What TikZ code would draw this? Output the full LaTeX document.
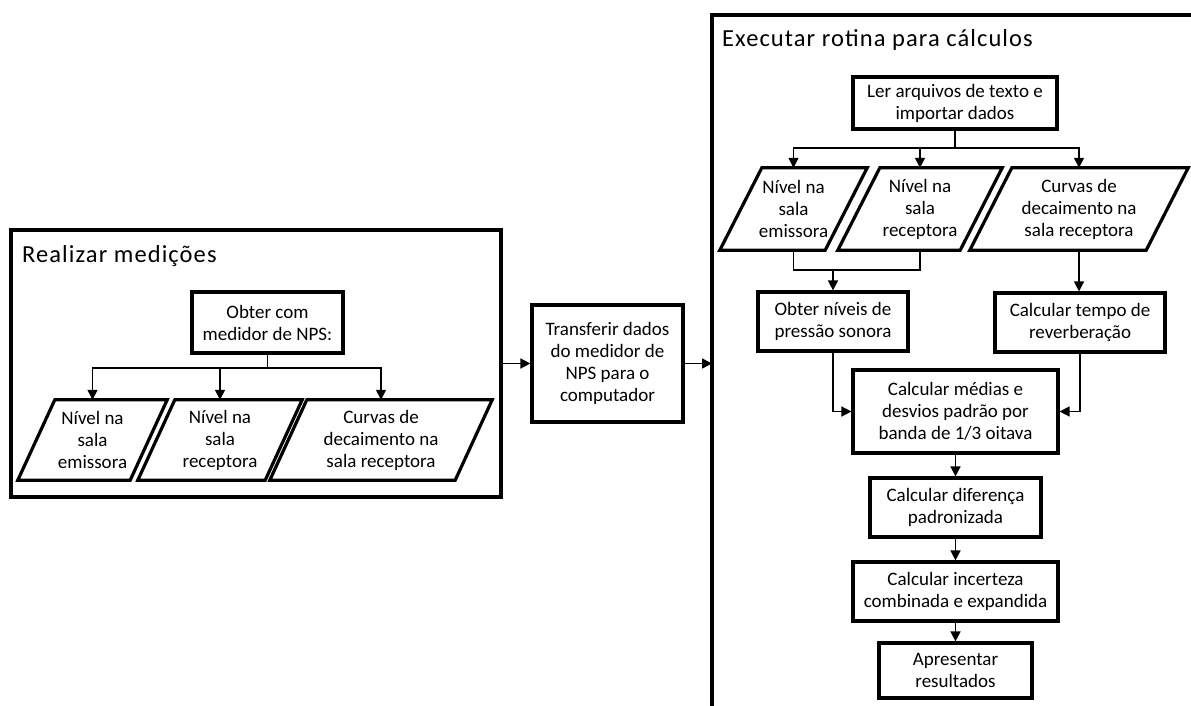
\documentclass[tikz,border=0pt]{standalone}
\usepackage{fontspec}
\setmainfont{Carlito}
\newfontfamily\headfamily[LetterSpace=4.4]{Carlito}
\usetikzlibrary{arrows.meta}
\newcommand{\flowfont}{\fontsize{19}{22}\selectfont}
\newcommand{\headfont}{\headfamily\fontsize{24.5}{28}\selectfont}
% parallelogram outline around a named node, top edge shifted right by #2
\newcommand{\slantoutline}[2]{%
  \draw[slantline] ([xshift=#2]#1.north west) -- (#1.north east)
    -- ([xshift=-#2]#1.south east) -- (#1.south west) -- cycle;}
\begin{document}
\begin{tikzpicture}[x=1pt,y=-1pt,
  frame/.style={draw, line width=4.5pt, inner sep=0pt},
  stepbox/.style={draw, line width=3.2pt, align=center, inner sep=0pt, font=\flowfont},
  databox/.style={align=center, inner sep=0pt, font=\flowfont},
  slantline/.style={line width=3.2pt, line join=miter},
  link/.style={line width=1.5pt},
  arr/.style={link, -{Triangle[length=10pt,width=10pt]}},
  title/.style={anchor=base west, inner sep=0pt, font=\headfont}]

\fill[white] (0,0) rectangle (1191,706);
\useasboundingbox (0,0) rectangle (1191,706);

% ---- measurement stage ----
\node[frame, minimum width=490pt, minimum height=267pt] (meas) at (256,363.5) {};
\node[title] (meastitle) at (22,262) {Realizar medições};
\node[stepbox, minimum width=151pt, minimum height=61pt] (obter) at (267.5,322.5) {Obter com\\medidor de NPS:};
\node[databox, minimum width=149pt, minimum height=80pt] (a1) at (92.5,440) {Nível na\\sala\\emissora};
\node[databox, minimum width=164pt, minimum height=80pt] (a2) at (220,440) {Nível na\\sala\\receptora};
\node[databox, minimum width=222pt, minimum height=80pt] (a3) at (381,440) {Curvas de\\decaimento na\\sala receptora};
\slantoutline{a1}{37pt}
\slantoutline{a2}{37pt}
\slantoutline{a3}{37pt}
\coordinate (ajoin) at (267.5,368);
\draw[link] (obter.south) -- (ajoin);
\draw[arr] (ajoin) -| (a1.north);
\draw[arr] (ajoin) -| (a2.north);
\draw[arr] (ajoin) -| (a3.north);

% ---- transfer ----
\node[stepbox, minimum width=151pt, minimum height=117pt] (transf) at (607.5,363.5) {Transferir dados\\do medidor de\\NPS para o\\computador};
\coordinate (calcin) at (712,363.5);
\draw[arr] (meas.east) -- (transf.west);
\draw[arr] (transf.east) -- (calcin);

% ---- calculation stage ----
\draw[line width=4.5pt, line join=miter] (1200,15) -- (712,15) -- (712,720);
\node[title] (calctitle) at (722,47) {Executar rotina para cálculos};
\node[stepbox, minimum width=204pt, minimum height=52pt] (ler) at (955,103) {Ler arquivos de texto e\\importar dados};
\node[databox, minimum width=147pt, minimum height=82pt] (q1) at (793.5,209) {Nível na\\sala\\emissora};
\node[databox, minimum width=164pt, minimum height=82pt] (q2) at (920,209) {Nível na\\sala\\receptora};
\node[databox, minimum width=218pt, minimum height=82pt] (q3) at (1079,209) {Curvas de\\decaimento na\\sala receptora};
\slantoutline{q1}{42pt}
\slantoutline{q2}{42pt}
\slantoutline{q3}{42pt}
\coordinate (bjoin) at (955,148);
\draw[link] (ler.south) -- (bjoin);
\draw[arr] (bjoin) -| (q1.north);
\draw[arr] (bjoin) -| (q2.north);
\draw[arr] (bjoin) -| (q3.north);

\node[stepbox, minimum width=150pt, minimum height=59pt] (niveis) at (833,321.5) {Obter níveis de\\pressão sonora};
\node[stepbox, minimum width=170pt, minimum height=59pt] (tempo) at (1080,322.5) {Calcular tempo de\\reverberação};
\coordinate (qjoin) at (833,270);
\draw[link] (q1.south) -- (q1.south |- qjoin) -- (q2.south |- qjoin) -- (q2.south);
\draw[arr] (qjoin) -- (niveis.north);
\draw[arr] (q3.south) -- (q3.south |- tempo.north);

\node[stepbox, minimum width=205pt, minimum height=83pt] (medias) at (955.5,411.5) {Calcular médias e\\desvios padrão por\\banda de 1/3 oitava};
\draw[arr] (niveis.south) |- (medias.west);
\draw[arr] (tempo.south) |- (medias.east);

\node[stepbox, minimum width=171pt, minimum height=59pt] (dif) at (955.5,507.5) {Calcular diferença\\padronizada};
\node[stepbox, minimum width=205pt, minimum height=59pt] (inc) at (955.5,591.5) {Calcular incerteza\\combinada e expandida};
\node[stepbox, minimum width=153pt, minimum height=55pt] (apr) at (955.5,670.5) {Apresentar\\resultados};
\draw[arr] (medias.south) -- (dif.north);
\draw[arr] (dif.south) -- (inc.north);
\draw[arr] (inc.south) -- (apr.north);
\end{tikzpicture}
\end{document}
